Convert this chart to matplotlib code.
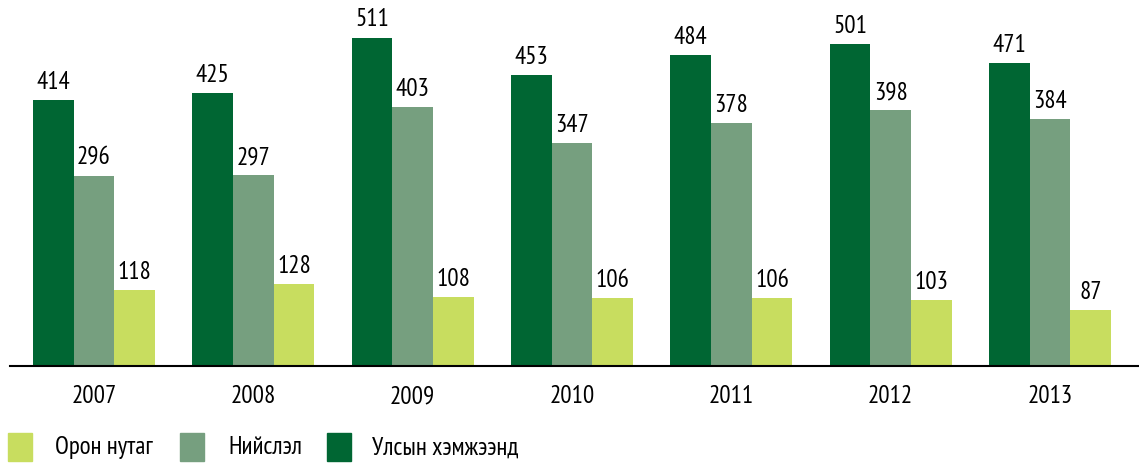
import numpy as np
import matplotlib.pyplot as plt
from matplotlib.patches import Rectangle

plt.rcParams['font.family'] = ['PT Sans Narrow', 'Roboto Condensed', 'DejaVu Sans']

years = ['2007', '2008', '2009', '2010', '2011', '2012', '2013']
national = [414, 425, 511, 453, 484, 501, 471]   # Улсын хэмжээнд
capital = [296, 297, 403, 347, 378, 398, 384]    # Нийслэл
rural = [118, 128, 108, 106, 106, 103, 87]       # Орон нутаг

legend_labels = ['Орон нутаг', 'Нийслэл', 'Улсын хэмжээнд']

c_dark = '#006633'
c_mid = '#769f7f'
c_light = '#c8dd5f'

W, H = 1139, 464
fig = plt.figure(figsize=(W / 100, H / 100), dpi=100)
ax = fig.add_axes([0.0088, 0.209, 0.9912, 0.791])

x = np.arange(len(years))
w = 0.2555
series = [(national, c_dark, -w), (capital, c_mid, 0), (rural, c_light, w)]
for vals, col, off in series:
    bars = ax.bar(x + off, vals, width=w, color=col)
    for b, v in zip(bars, vals):
        ax.text(b.get_x() + b.get_width() / 2, v + 11, str(v),
                ha='center', va='bottom', fontsize=18)

ax.set_xlim(-0.527, 6.559)
ax.set_ylim(0, 571)
ax.set_xticks(x)
ax.set_xticklabels(years, fontsize=18)
ax.tick_params(axis='x', length=0, pad=13)
ax.set_yticks([])
for s in ['top', 'right', 'left']:
    ax.spines[s].set_visible(False)
ax.spines['bottom'].set_linewidth(1.5)

# legend drawn by hand (pixel positions from the top-left)
legend_cols = [c_light, c_mid, c_dark]
box_x = [8, 180, 327]
text_x = [55, 228, 372]
for lab, col, bx, tx in zip(legend_labels, legend_cols, box_x, text_x):
    fig.add_artist(Rectangle((bx / W, (H - 462) / H), 24 / W, 28 / H,
                             transform=fig.transFigure, color=col))
    fig.text(tx / W, (H - 448) / H, lab, fontsize=18, va='center', ha='left')

fig.savefig('out.png', dpi=100)
